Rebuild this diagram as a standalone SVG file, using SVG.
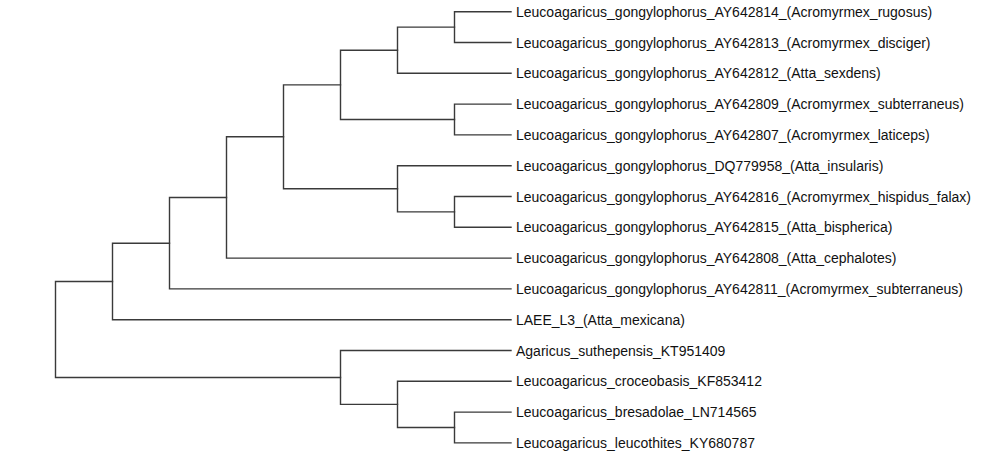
<svg xmlns="http://www.w3.org/2000/svg" width="1006" height="466" viewBox="0 0 1006 466">
<style>
.e{fill:none;stroke:#3a3a3a;stroke-width:1.4;stroke-linecap:square}
.t{font-family:"Liberation Sans",Arial,sans-serif;font-size:14px;fill:#111}
</style>
<rect width="1006" height="466" fill="#fff"/>
<g id="connectors">
<!-- J -->
<path class="e" d="M511 11.7 H454.5 V42.5 H511"/>
<!-- H -->
<path class="e" d="M454.5 27.1 H397.5 V73.3 H511"/>
<!-- I -->
<path class="e" d="M511 104.1 H454.5 V134.9 H511"/>
<!-- F -->
<path class="e" d="M397.5 50.2 H340.5 V119.5 H454.5"/>
<!-- K -->
<path class="e" d="M511 196.5 H454.5 V227.3 H511"/>
<!-- G -->
<path class="e" d="M511 165.7 H397.5 V211.9 H454.5"/>
<!-- E -->
<path class="e" d="M340.5 84.85 H283.5 V188.8 H397.5"/>
<!-- D -->
<path class="e" d="M283.5 136.8 H226.5 V258.1 H511"/>
<!-- C -->
<path class="e" d="M226.5 197.45 H169.5 V288.9 H511"/>
<!-- A -->
<path class="e" d="M169.5 243.2 H112.5 V319.7 H511"/>
<!-- M -->
<path class="e" d="M511 412.1 H454.5 V442.9 H511"/>
<!-- L -->
<path class="e" d="M511 381.3 H397.5 V427.5 H454.5"/>
<!-- B -->
<path class="e" d="M511 350.5 H340.5 V404.4 H397.5"/>
<!-- root -->
<path class="e" d="M112.5 281.45 H55.5 V377.45 H340.5"/>
</g>
<g id="leaf0"><text class="t" x="516" y="16.7">Leucoagaricus_gongylophorus_AY642814_(Acromyrmex_rugosus)</text></g>
<g id="leaf1"><text class="t" x="516" y="47.5">Leucoagaricus_gongylophorus_AY642813_(Acromyrmex_disciger)</text></g>
<g id="leaf2"><text class="t" x="516" y="78.3">Leucoagaricus_gongylophorus_AY642812_(Atta_sexdens)</text></g>
<g id="leaf3"><text class="t" x="516" y="109.1">Leucoagaricus_gongylophorus_AY642809_(Acromyrmex_subterraneus)</text></g>
<g id="leaf4"><text class="t" x="516" y="139.9">Leucoagaricus_gongylophorus_AY642807_(Acromyrmex_laticeps)</text></g>
<g id="leaf5"><text class="t" x="516" y="170.7">Leucoagaricus_gongylophorus_DQ779958_(Atta_insularis)</text></g>
<g id="leaf6"><text class="t" x="516" y="201.5">Leucoagaricus_gongylophorus_AY642816_(Acromyrmex_hispidus_falax)</text></g>
<g id="leaf7"><text class="t" x="516" y="232.3">Leucoagaricus_gongylophorus_AY642815_(Atta_bispherica)</text></g>
<g id="leaf8"><text class="t" x="516" y="263.1">Leucoagaricus_gongylophorus_AY642808_(Atta_cephalotes)</text></g>
<g id="leaf9"><text class="t" x="516" y="293.9">Leucoagaricus_gongylophorus_AY642811_(Acromyrmex_subterraneus)</text></g>
<g id="leaf10"><text class="t" x="516" y="324.7">LAEE_L3_(Atta_mexicana)</text></g>
<g id="leaf11"><text class="t" x="516" y="355.5">Agaricus_suthepensis_KT951409</text></g>
<g id="leaf12"><text class="t" x="516" y="386.3">Leucoagaricus_croceobasis_KF853412</text></g>
<g id="leaf13"><text class="t" x="516" y="417.1">Leucoagaricus_bresadolae_LN714565</text></g>
<g id="leaf14"><text class="t" x="516" y="447.9">Leucoagaricus_leucothites_KY680787</text></g>
</svg>
